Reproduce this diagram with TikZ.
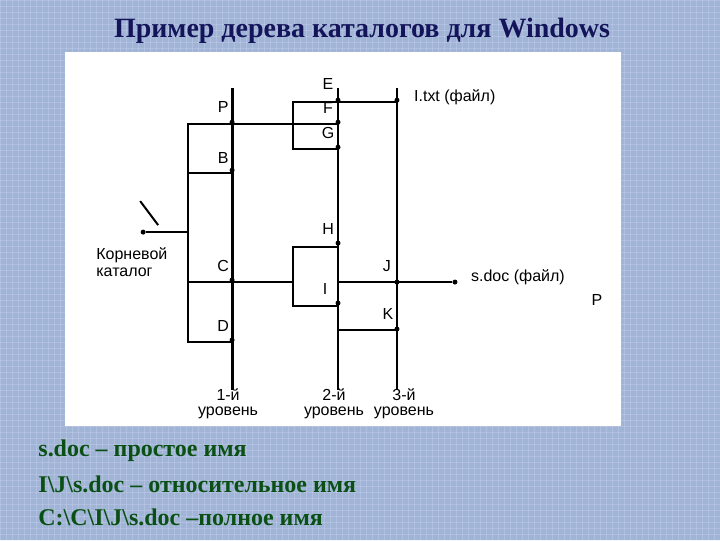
\documentclass[tikz,border=0pt]{standalone}
\usepackage{fontspec}
\setmainfont{Liberation Serif}
\newfontfamily\lsans{Liberation Sans}
\begin{document}
\begin{tikzpicture}[x=1pt,y=-1pt,
  lbl/.style={font=\lsans\fontsize{16}{17}\selectfont, inner sep=0pt},
  ln/.style={line width=1.5pt},
  dotm/.style={circle, fill=black, inner sep=0pt, minimum size=5pt}]
\fill[fill={rgb,255:red,160;green,180;blue,214}] (0,0) rectangle (720,540);
\foreach \i in {0,6,...,720} \draw[white!70!blue!40,opacity=0.25,line width=0.5pt] (\i,0) -- (\i,540);
\foreach \i in {0,6,...,540} \draw[white!70!blue!40,opacity=0.25,line width=0.5pt] (0,\i) -- (720,\i);
\fill[white] (65,52) rectangle (621,426);
\node[font=\bfseries\fontsize{28}{30}\selectfont, text={rgb,255:red,20;green,20;blue,90}] (title) at (362,31) {Пример дерева каталогов для Windows};
% levels
\draw[line width=3pt] (232,88) -- (232,390);
\draw[line width=2pt] (338,88) -- (338,390);
\draw[line width=2pt] (397,88) -- (397,390);
% bracket
\draw[ln] (232,124) -- (188,124) -- (188,342) -- (232,342);
\draw[ln] (188,173) -- (232,173);
\draw[ln] (232,124) -- (338,124);
\draw[ln] (188,282) -- (293,282);
\node[dotm] (root) at (143,232) {};
\draw[ln] (root) -- (188,232);
\draw[line width=2pt] (140,201) -- (158,225);
% box E-G
\draw[ln] (397,102) -- (293,102) -- (293,149) -- (338,149);
% box H-I
\draw[ln] (338,247) -- (293,247) -- (293,306) -- (338,306);
\node[dotm] (sdoc) at (455,282) {};
\draw[ln] (338,282) -- (sdoc);
\draw[ln] (338,330) -- (397,330);
% dots
\foreach \x/\y in {232/122,232/170,232/280,232/340,338/100,338/122,338/147,338/243,338/303,397/100,397/282,397/329}
  \node[dotm] at (\x,\y) {};
% labels
\node[lbl] (P) at (223,107) {P};
\node[lbl] (B) at (223,158) {B};
\node[lbl] (C) at (223,266) {C};
\node[lbl] (D) at (223,326) {D};
\node[lbl] (E) at (328,84) {E};
\node[lbl] (F) at (328,108) {F};
\node[lbl] (G) at (328,133) {G};
\node[lbl] (H) at (328,229) {H};
\node[lbl] (I) at (325,289) {I};
\node[lbl] (J) at (387,266) {J};
\node[lbl] (K) at (388,314) {K};
\node[lbl,anchor=west] (itxt) at (414,97) {I.txt (файл)};
\node[lbl,anchor=west] (sdt) at (471,277) {s.doc (файл)};
\node[lbl] (P2) at (597,300) {P};
\node[lbl,align=left,anchor=west] (root_l) at (96,262) {Корневой\\каталог};
\node[lbl,align=center,font=\lsans\fontsize{16}{15}\selectfont] (l1) at (228,404) {1-й\\уровень};
\node[lbl,align=center,font=\lsans\fontsize{16}{15}\selectfont] (l2) at (334,404) {2-й\\уровень};
\node[lbl,align=center,font=\lsans\fontsize{16}{15}\selectfont] (l3) at (404,404) {3-й\\уровень};
% bottom
\begin{scope}[every node/.style={anchor=west,inner sep=0pt,font=\bfseries\fontsize{24}{26}\selectfont,text={rgb,255:red,10;green,80;blue,20}}]
\node (t1) at (38,451) {s.doc – простое имя};
\node (t2) at (38,484) {I\textbackslash J\textbackslash s.doc – относительное имя};
\node (t3) at (38,517) {C:\textbackslash C\textbackslash I\textbackslash J\textbackslash s.doc –полное имя};
\end{scope}
\end{tikzpicture}
\end{document}
